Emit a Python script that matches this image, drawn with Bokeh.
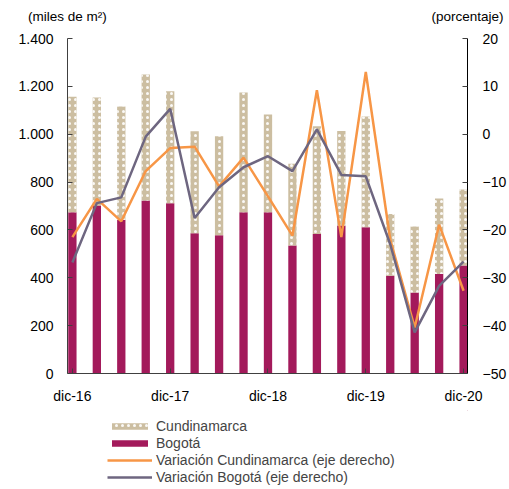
from bokeh.plotting import figure
from bokeh.models import (Range1d, LinearAxis, FixedTicker, Legend, LegendItem,
                          ColumnDataSource)
from bokeh.layouts import column
from bokeh.embed import file_html
from bokeh.resources import INLINE

# ---- data ----
periods = ["dic-16", "mar-17", "jun-17", "sep-17", "dic-17", "mar-18", "jun-18", "sep-18",
           "dic-18", "mar-19", "jun-19", "sep-19", "dic-19", "mar-20", "jun-20", "sep-20", "dic-20"]
bogota = [674, 702, 642, 723, 712, 586, 578, 674, 674, 535, 583, 618, 611, 409, 339, 416, 451]
cundinamarca = [483, 451, 474, 527, 468, 426, 413, 500, 408, 342, 450, 395, 463, 258, 275, 315, 318]
var_cundinamarca = [-21.5, -13.5, -18.2, -7.7, -2.9, -2.6, -10.9, -4.9, -13.0, -21.2, 9.2,
                    -21.5, 13.0, -22.0, -40.4, -18.9, -32.7]
var_bogota = [-26.8, -14.4, -13.2, -0.5, 5.3, -17.5, -11.1, -6.9, -4.6, -7.7, 1.0,
              -8.5, -8.8, -23.0, -41.4, -31.7, -26.6]
left_ticks = [0, 200, 400, 600, 800, 1000, 1200, 1400]
left_tick_labels = ["0", "200", "400", "600", "800", "1.000", "1.200", "1.400"]
right_ticks = [-50, -40, -30, -20, -10, 0, 10, 20]
x_label_idx = [0, 4, 8, 12, 16]
left_title = "(miles de m²)"
right_title = "(porcentaje)"
legend_labels = ["Cundinamarca", "Bogotá", "Variación Cundinamarca (eje derecho)",
                 "Variación Bogotá (eje derecho)"]

FONT = "Liberation Sans"
TAN = "#CCBEA1"
MAGENTA = "#A31A5B"
ORANGE = "#F79646"
GRAY = "#6E6680"
AXIS = "#404040"
W = 509

xs = list(range(len(periods)))
totals = [b + c for b, c in zip(bogota, cundinamarca)]
src = ColumnDataSource(dict(x=xs, bog=bogota, tot=totals,
                            vc=var_cundinamarca, vb=var_bogota))

BOG_STYLE = dict(fill_color=MAGENTA, line_color=None)
CUN_STYLE = dict(fill_color=TAN, line_color=None, hatch_pattern="dot",
                 hatch_color="white", hatch_scale=6, hatch_weight=1.8, hatch_alpha=0.9)
VC_STYLE = dict(line_color=ORANGE, line_width=2.5)
VB_STYLE = dict(line_color=GRAY, line_width=2.5)

# ---- main chart ----
p = figure(width=W, height=410, output_backend="svg", toolbar_location=None,
           x_range=Range1d(-0.2, 16.16), y_range=Range1d(0, 1400),
           min_border_left=67, min_border_right=36, min_border_top=38,
           min_border_bottom=37)
p.extra_y_ranges = {"pct": Range1d(-50, 20)}
p.extra_x_ranges = {"hdr": Range1d(0, 1)}
p.outline_line_color = None
p.grid.visible = False

p.vbar(x="x", width=0.34, bottom=0, top="bog", source=src, **BOG_STYLE)
p.vbar(x="x", width=0.34, bottom="bog", top="tot", source=src, **CUN_STYLE)
p.line(x="x", y="vc", source=src, y_range_name="pct", **VC_STYLE)
p.line(x="x", y="vb", source=src, y_range_name="pct", **VB_STYLE)

def style_axis(ax):
    ax.axis_line_color = AXIS
    ax.major_tick_line_color = AXIS
    ax.minor_tick_line_color = None
    ax.major_tick_in = 5
    ax.major_tick_out = 0
    ax.major_label_text_font = FONT
    ax.major_label_text_font_size = "14px"
    ax.major_label_text_color = "black"

xa = p.xaxis[0]
style_axis(xa)
xa.ticker = FixedTicker(ticks=x_label_idx)
xa.major_label_overrides = {i: periods[i] for i in x_label_idx}
xa.major_label_standoff = 14

ya = p.yaxis[0]
style_axis(ya)
ya.ticker = FixedTicker(ticks=left_ticks)
ya.major_label_overrides = {t: l for t, l in zip(left_ticks, left_tick_labels)}
ya.major_label_standoff = 14

ra = LinearAxis(y_range_name="pct", ticker=FixedTicker(ticks=right_ticks))
style_axis(ra)
ra.axis_line_color = "black"
ra.major_label_standoff = 15
p.add_layout(ra, "right")

# axis titles as labels of a bare top axis
ta = LinearAxis(x_range_name="hdr", ticker=FixedTicker(ticks=[0, 1]))
ta.major_label_overrides = {0: left_title, 1: right_title}
ta.axis_line_color = None
ta.major_tick_line_color = None
ta.minor_tick_line_color = None
ta.major_tick_out = 0
ta.major_tick_in = 0
ta.major_label_standoff = 15
ta.major_label_text_font = FONT
ta.major_label_text_font_size = "13.5px"
ta.major_label_text_color = "black"
p.add_layout(ta, "above")

# ---- legend panel (proxy renderers lie outside the visible range) ----
lg = figure(width=W, height=79, output_backend="svg", toolbar_location=None,
            x_range=Range1d(0, 1), y_range=Range1d(0, 1),
            x_axis_type=None, y_axis_type=None,
            min_border_left=67, min_border_right=36, min_border_top=0,
            min_border_bottom=0)
lg.outline_line_color = None
lg.grid.visible = False
proxy = ColumnDataSource(dict(x=[5, 6], y=[5, 5], t=[6, 6], b=[5, 5]))
l_cun = lg.vbar(x="x", width=0.3, top="t", bottom="b", source=proxy, **CUN_STYLE)
l_bog = lg.vbar(x="x", width=0.3, top="t", bottom="b", source=proxy, **BOG_STYLE)
l_vc = lg.line(x="x", y="y", source=proxy, **VC_STYLE)
l_vb = lg.line(x="x", y="y", source=proxy, **VB_STYLE)

legend = Legend(items=[LegendItem(label=lab, renderers=[r]) for lab, r in
                       zip(legend_labels, [l_cun, l_bog, l_vc, l_vb])],
                location=(40, 4), orientation="vertical", border_line_color=None,
                background_fill_alpha=0, padding=0, margin=0, spacing=0,
                glyph_width=45, glyph_height=8, label_height=17,
                label_standoff=4, label_text_font=FONT, label_text_font_size="14px")
lg.add_layout(legend, "center")

layout = column(p, lg, spacing=0)
open("out.html", "w").write(file_html(layout, INLINE))
